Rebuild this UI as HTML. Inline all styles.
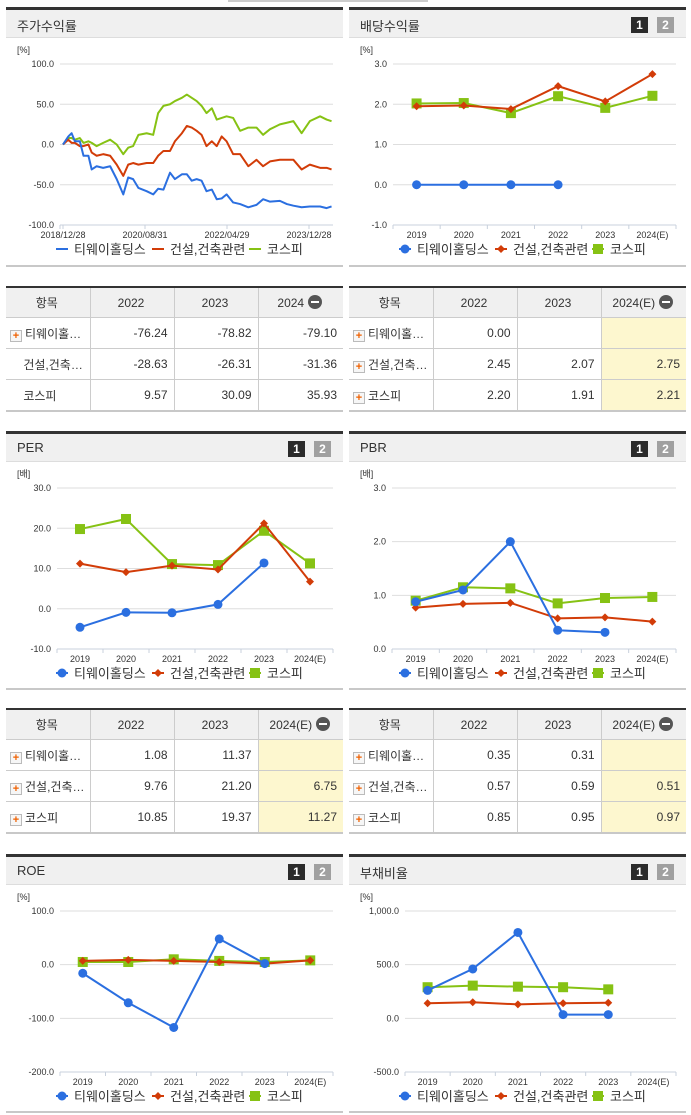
<!DOCTYPE html>
<html><head><meta charset="utf-8">
<style>
body{margin:0;width:691px;height:1115px;background:#fff;font-family:"Liberation Sans","Noto Sans CJK KR",sans-serif;position:relative;overflow:hidden;color:#333}
.hdr{position:absolute;height:31px;background:#f0f0f0;border-top:3px solid #333;border-bottom:1px solid #ddd;box-sizing:border-box}
.hdr .t{position:absolute;left:11px;top:6px;font-size:13px;color:#333}
.b1,.b2{position:absolute;top:7px;width:17px;height:16px;color:#fff;font-size:12px;font-weight:bold;text-align:center;line-height:16px}
.b1{background:#2b2b2b;right:38px}.b2{background:#a0a0a0;right:12px}
.foot{position:absolute;height:2px;background:#c8c8c8}
table{position:absolute;border-collapse:collapse;font-size:12px;border-top:2px solid #333;border-bottom:2px solid #c8c8c8;table-layout:fixed}
td,th{border-right:1px solid #ccc;border-bottom:1px solid #ccc;height:30px;padding:0 6px 0 4px;white-space:nowrap;overflow:hidden}
th{background:#f0f0f0;font-weight:normal;text-align:center;height:29px}
td{text-align:right}td:first-child{text-align:left}
td:last-child,th:last-child{border-right:none}
.y{background:#fdf7cf}
.pl{display:inline-block;width:10px;height:10px;border:1px solid #bbb;background:#f6f6f6;color:#f06000;font-size:11px;line-height:10px;text-align:center;font-weight:bold;vertical-align:-1px;margin-right:3px}
.mi{display:inline-block;width:14px;height:14px;border-radius:7px;background:#555;vertical-align:-2px;margin-left:4px;position:relative}
.mi:after{content:"";position:absolute;left:3px;top:6px;width:8px;height:2px;background:#fff}
svg{position:absolute;left:0;top:0}
</style></head><body>
<div style="position:absolute;left:228px;top:0;width:200px;height:2px;background:#ccc"></div>

<div class="hdr" style="left:6px;top:7px;width:337px"><span class="t">주가수익률</span></div>
<div class="hdr" style="left:349px;top:7px;width:337px"><span class="t">배당수익률</span><span class="b1">1</span><span class="b2">2</span></div>
<div class="hdr" style="left:6px;top:431px;width:337px"><span class="t">PER</span><span class="b1">1</span><span class="b2">2</span></div>
<div class="hdr" style="left:349px;top:431px;width:337px"><span class="t">PBR</span><span class="b1">1</span><span class="b2">2</span></div>
<div class="hdr" style="left:6px;top:854px;width:337px"><span class="t">ROE</span><span class="b1">1</span><span class="b2">2</span></div>
<div class="hdr" style="left:349px;top:854px;width:337px"><span class="t">부채비율</span><span class="b1">1</span><span class="b2">2</span></div>

<div class="foot" style="left:6px;top:265px;width:337px"></div>
<div class="foot" style="left:349px;top:265px;width:337px"></div>
<div class="foot" style="left:6px;top:688px;width:337px"></div>
<div class="foot" style="left:349px;top:688px;width:337px"></div>
<div class="foot" style="left:6px;top:1111px;width:337px"></div>
<div class="foot" style="left:349px;top:1111px;width:337px"></div>

<table style="left:6px;top:286px;width:337px">
<colgroup><col style="width:84px"><col style="width:84px"><col style="width:84px"><col></colgroup>
<tr><th>항목</th><th>2022</th><th>2023</th><th>2024<span class="mi"></span></th></tr>
<tr><td><span class="pl">+</span>티웨이홀…</td><td>-76.24</td><td>-78.82</td><td>-79.10</td></tr>
<tr><td>&nbsp;&nbsp;&nbsp;&nbsp;건설,건축…</td><td>-28.63</td><td>-26.31</td><td>-31.36</td></tr>
<tr><td>&nbsp;&nbsp;&nbsp;&nbsp;코스피</td><td>9.57</td><td>30.09</td><td>35.93</td></tr>
</table>
<table style="left:349px;top:286px;width:337px">
<colgroup><col style="width:84px"><col style="width:84px"><col style="width:84px"><col></colgroup>
<tr><th>항목</th><th>2022</th><th>2023</th><th>2024(E)<span class="mi"></span></th></tr>
<tr><td><span class="pl">+</span>티웨이홀…</td><td>0.00</td><td></td><td class="y"></td></tr>
<tr><td><span class="pl">+</span>건설,건축…</td><td>2.45</td><td>2.07</td><td class="y">2.75</td></tr>
<tr><td><span class="pl">+</span>코스피</td><td>2.20</td><td>1.91</td><td class="y">2.21</td></tr>
</table>
<table style="left:6px;top:708px;width:337px">
<colgroup><col style="width:84px"><col style="width:84px"><col style="width:84px"><col></colgroup>
<tr><th>항목</th><th>2022</th><th>2023</th><th>2024(E)<span class="mi"></span></th></tr>
<tr><td><span class="pl">+</span>티웨이홀…</td><td>1.08</td><td>11.37</td><td class="y"></td></tr>
<tr><td><span class="pl">+</span>건설,건축…</td><td>9.76</td><td>21.20</td><td class="y">6.75</td></tr>
<tr><td><span class="pl">+</span>코스피</td><td>10.85</td><td>19.37</td><td class="y">11.27</td></tr>
</table>
<table style="left:349px;top:708px;width:337px">
<colgroup><col style="width:84px"><col style="width:84px"><col style="width:84px"><col></colgroup>
<tr><th>항목</th><th>2022</th><th>2023</th><th>2024(E)<span class="mi"></span></th></tr>
<tr><td><span class="pl">+</span>티웨이홀…</td><td>0.35</td><td>0.31</td><td class="y"></td></tr>
<tr><td><span class="pl">+</span>건설,건축…</td><td>0.57</td><td>0.59</td><td class="y">0.51</td></tr>
<tr><td><span class="pl">+</span>코스피</td><td>0.85</td><td>0.95</td><td class="y">0.97</td></tr>
</table>

<svg id="c" width="691" height="1115"></svg>
<script>
// stock return series (months since 2018/12/28)
const stockMonths=[0,1.3,2.1,2.9,4.1,5.0,6.2,7.0,8.2,9.8,11.5,13.1,14.7,15.9,17.1,18.4,20.4,22.0,23.2,24.5,26.1,27.3,29.0,30.2,31.4,32.6,33.8,35.0,36.3,37.5,38.7,39.9,41.5,43.2,45.2,47.2,48.8,50.5,52.9,54.6,56.2,58.2,60.2,62.7,64.3,65.5];
const stockBlue=[0,10,14,4,4,-14,-14,-31,-27,-29,-27,-43,-62,-41,-43,-54,-58,-62,-55,-56,-35,-43,-37,-37,-45,-43,-45,-58,-56,-68,-67,-62,-72,-74,-78,-75,-68,-71,-70,-74,-76,-78,-77,-77,-79,-77];
const stockRed=[0,6,2,2,-2,-2,0,-10,-14,-12,-14,-25,-39,-25,-23,-25,-23,-23,-14,-8,-8,4,14,23,21,17,12,-2,4,-2,10,4,-12,-12,-27,-19,-27,-21,-19,-19,-19,-31,-25,-29,-29,-31];
const stockGreen=[0,8,8,6,8,2,4,2,-2,2,6,0,-12,-4,-2,12,14,12,39,48,50,54,58,62,58,54,48,39,45,31,33,35,33,17,21,21,12,19,25,27,29,14,29,35,31,29];
const stockTickLabels=["2018/12/28","2020/08/31","2022/04/29","2023/12/28"];
const stockTickMonths=[0,20,40,60];
const years=["2019","2020","2021","2022","2023","2024(E)"];
const divBlue=[0,0,0,0,null,null];
const divRed=[1.95,1.97,1.88,2.45,2.07,2.75];
const divGreen=[2.02,2.03,1.78,2.20,1.91,2.21];
const perBlue=[-4.6,-0.9,-1.0,1.08,11.37,null];
const perRed=[11.2,9.1,10.7,9.76,21.2,6.75];
const perGreen=[19.8,22.3,11.1,10.85,19.37,11.27];
const pbrBlue=[0.88,1.1,2.0,0.35,0.31,null];
const pbrRed=[0.77,0.84,0.86,0.57,0.59,0.51];
const pbrGreen=[0.9,1.15,1.13,0.85,0.95,0.97];
const roeBlue=[-16,-71,-117,48,2,null];
const roeRed=[7,9,7,5,2,8];
const roeGreen=[5,5,10,7,5,8];
const debtBlue=[260,460,800,35,35,null];
const debtRed=[140,150,130,140,145,null];
const debtGreen=[290,305,295,290,270,null];
const seriesNames=["티웨이홀딩스","건설,건축관련","코스피"];

const C=["#2b6fe0","#d23c08","#86c214"];
const svg=document.getElementById('c');const NS="http://www.w3.org/2000/svg";
function mk(t,a,p){const e=document.createElementNS(NS,t);for(const k in a)e.setAttribute(k,a[k]);(p||svg).appendChild(e);return e;}
function txt(x,y,s,sz,anchor,p){const e=mk('text',{x:x,y:y,'font-size':sz,'text-anchor':anchor||'start',fill:'#333','font-family':'"Liberation Sans","Noto Sans CJK KR",sans-serif'},p);e.textContent=s;return e;}
function fmt(v){const s=Math.abs(v).toFixed(1);const p=s.split('.');p[0]=p[0].replace(/\B(?=(\d{3})+(?!\d))/g,',');return (v<0?'-':'')+p.join('.');}

function frame(name,px,top,x0,x1,min,max,step,unit){
  const g=mk('g',{});
  
  
  const yt=top+57,yb=top+218;
  const ys=v=>yb-(v-min)/(max-min)*(yb-yt);
  txt(px+11,top+46,unit,9,'start',g);
  for(let v=min;v<=max+1e-9;v+=step){
    const y=ys(v);
    if(v>min){const l=mk('line',{x1:x0,x2:x1,y1:y,y2:y,stroke:'#dedede','stroke-width':1},g);}
    const t=txt(x0-6,y+3,fmt(v),9,'end',g);
  }
  mk('line',{x1:x0,x2:x1,y1:yb,y2:yb,stroke:'#c8d0dc','stroke-width':1},g);
  return {g,ys,yt,yb};
}
function legend(g,px,top,style){
  const y=top+242;
  [56,152,249].forEach((o,i)=>{
    const lg=mk('g',{},g);
    
    
    const cx=px+o;
    if(style==='line'){mk('line',{x1:cx-6,x2:cx+6,y1:y,y2:y,stroke:C[i],'stroke-width':2},lg);}
    else{mk('line',{x1:cx-6,x2:cx+6,y1:y,y2:y,stroke:C[i],'stroke-width':2},lg);marker(lg,i,cx,y,1);}
    txt(cx+12,y+5,seriesNames[i],13,'start',lg);
  });
}
function marker(g,i,x,y,s){
  let m;
  if(i===0)m=mk('circle',{cx:x,cy:y,r:4.5*s,fill:C[0]},g);
  else if(i===1)m=mk('polygon',{points:`${x},${y-4} ${x+4},${y} ${x},${y+4} ${x-4},${y}`,fill:C[1]},g);
  else m=mk('rect',{x:x-5,y:y-5,width:10,height:10,fill:C[2]},g);
  
  
}
function catChart(name,px,top,x0,x1,min,max,step,unit,series){
  const f=frame(name,px,top,x0,x1,min,max,step,unit);
  const bw=(x1-x0)/6;const xs=i=>x0+bw*(i+0.5);
  for(let i=0;i<=6;i++)mk('line',{x1:x0+bw*i,x2:x0+bw*i,y1:f.yb,y2:f.yb+4,stroke:'#c8d0dc'},f.g);
  years.forEach((yy,i)=>{const t=txt(xs(i),f.yb+13,yy,9,'middle',f.g);});
  [2,1,0].forEach(si=>{
    const d=series[si];let pts=[];
    d.forEach((v,i)=>{if(v!==null)pts.push([xs(i),f.ys(v)]);});
    const pl=mk('polyline',{points:pts.map(p=>p.join(',')).join(' '),fill:'none',stroke:C[si],'stroke-width':2},f.g);
    
    
    pts.forEach(p=>marker(f.g,si,p[0],p[1],1));
  });
  legend(f.g,px,top,'marker');
}
// stock chart
(function(){
  const f=frame('stock-return-chart',6,7,60,333,-100,100,50,'[%]');
  const xs=m=>63+m*4.1;
  mk('line',{x1:60,x2:60,y1:f.yb,y2:f.yb+4,stroke:'#c8d0dc'},f.g);
  stockTickMonths.forEach((m,i)=>{mk('line',{x1:xs(m),x2:xs(m),y1:f.yb,y2:f.yb+4,stroke:'#c8d0dc'},f.g);const t=txt(xs(m),f.yb+13,stockTickLabels[i],9,'middle',f.g);});
  [stockGreen,stockRed,stockBlue].forEach((d,k)=>{
    const si=2-k;
    const pl=mk('polyline',{points:d.map((v,i)=>xs(stockMonths[i])+','+f.ys(v)).join(' '),fill:'none',stroke:C[si],'stroke-width':2,'stroke-linejoin':'round'},f.g);
    
    
  });
  legend(f.g,6,7,'line');
})();
catChart('dividend-chart',349,7,393,676,-1,3,1,'[%]',[divBlue,divRed,divGreen]);
catChart('per-chart',6,431,57,333,-10,30,10,'[배]',[perBlue,perRed,perGreen]);
catChart('pbr-chart',349,431,392,676,0,3,1,'[배]',[pbrBlue,pbrRed,pbrGreen]);
catChart('roe-chart',6,854,60,333,-200,100,100,'[%]',[roeBlue,roeRed,roeGreen]);
catChart('debt-ratio-chart',349,854,405,676,-500,1000,500,'[%]',[debtBlue,debtRed,debtGreen]);
</script>
</body></html>
